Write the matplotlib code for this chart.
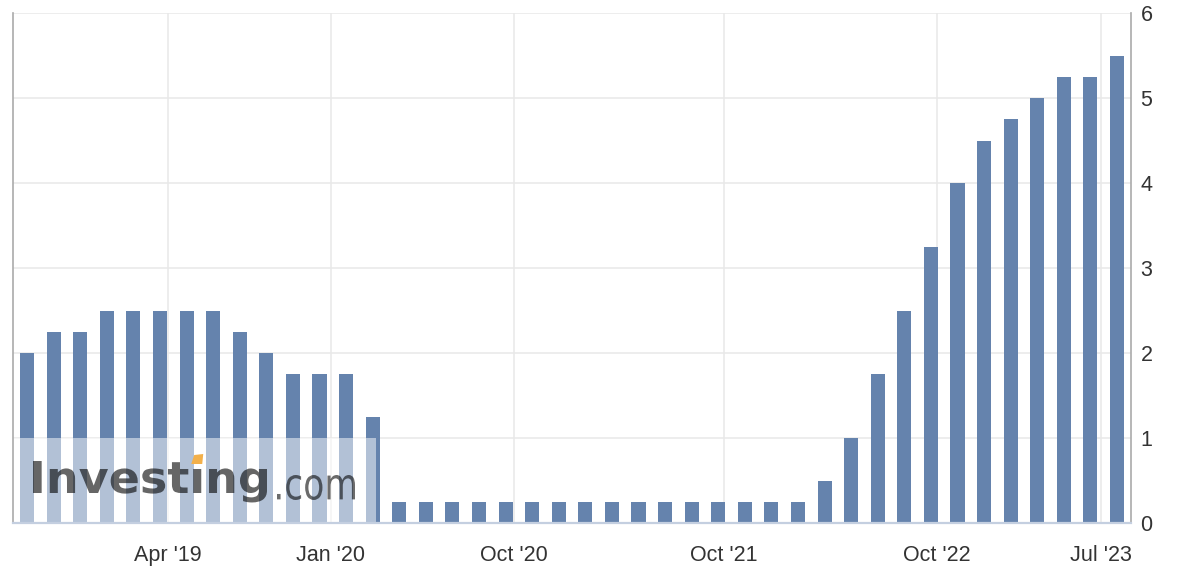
from datetime import date
import numpy as np
import matplotlib
matplotlib.use("Agg")
import matplotlib.pyplot as plt
from matplotlib.patches import Rectangle, Polygon, PathPatch
from matplotlib.textpath import TextPath
from matplotlib.font_manager import FontProperties
from matplotlib.transforms import IdentityTransform, Affine2D

# FOMC decision dates and the upper bound of the target rate (%)
meeting_dates = [
    date(2018, 8, 1), date(2018, 9, 26), date(2018, 11, 8), date(2018, 12, 19),
    date(2019, 1, 30), date(2019, 3, 20), date(2019, 5, 1), date(2019, 6, 19),
    date(2019, 7, 31), date(2019, 9, 18), date(2019, 10, 30), date(2019, 12, 11),
    date(2020, 1, 29), date(2020, 3, 3), date(2020, 3, 15), date(2020, 4, 29),
    date(2020, 6, 10), date(2020, 7, 29), date(2020, 9, 16), date(2020, 11, 5),
    date(2020, 12, 16), date(2021, 1, 27), date(2021, 3, 17), date(2021, 4, 28),
    date(2021, 6, 16), date(2021, 7, 28), date(2021, 9, 22), date(2021, 11, 3),
    date(2021, 12, 15), date(2022, 1, 26), date(2022, 3, 16), date(2022, 5, 4),
    date(2022, 6, 15), date(2022, 7, 27), date(2022, 9, 21), date(2022, 11, 2),
    date(2022, 12, 14), date(2023, 2, 1), date(2023, 3, 22), date(2023, 5, 3),
    date(2023, 6, 14), date(2023, 7, 26),
]
rates = [
    2.00, 2.25, 2.25, 2.50, 2.50, 2.50, 2.50, 2.50, 2.25, 2.00, 1.75, 1.75,
    1.75, 1.25, 0.25, 0.25, 0.25, 0.25, 0.25, 0.25, 0.25, 0.25, 0.25, 0.25,
    0.25, 0.25, 0.25, 0.25, 0.25, 0.25, 0.50, 1.00, 1.75, 2.50, 3.25, 4.00,
    4.50, 4.75, 5.00, 5.25, 5.25, 5.50,
]
tick_dates = [date(2019, 4, 1), date(2020, 1, 1), date(2020, 10, 1),
              date(2021, 10, 1), date(2022, 10, 1), date(2023, 7, 1)]
tick_labels = ["Apr '19", "Jan '20", "Oct '20", "Oct '21", "Oct '22", "Jul '23"]
y_ticks = [0, 1, 2, 3, 4, 5, 6]

plt.rcParams['font.family'] = ['Liberation Sans', 'DejaVu Sans']

W, H = 1196, 580
AX_L, AX_R, AX_T, AX_B = 12.7, 1130.7, 13, 523
fig = plt.figure(figsize=(W / 100, H / 100), dpi=100)
ax = fig.add_axes([AX_L / W, 1 - AX_B / H, (AX_R - AX_L) / W, (AX_B - AX_T) / H])

x = np.arange(len(rates))
ax.bar(x, rates, width=0.53, color='#6583ad', zorder=2)

# ordinal axis: ticks are placed between the bars by date
meet_ord = [d.toordinal() for d in meeting_dates]
tick_pos = np.interp([d.toordinal() for d in tick_dates], meet_ord, x)
ax.set_xticks(tick_pos, tick_labels)
ax.set_xlim(-0.54, len(rates) - 0.485)
ax.set_ylim(0, 6)
ax.yaxis.tick_right()
ax.set_yticks(y_ticks)

ax.grid(True, color='#e8e8e8', lw=1.1)
ax.set_axisbelow(True)
ax.tick_params(length=0, labelsize=15.5, colors='#333333')
ax.tick_params(axis='x', pad=16)
ax.tick_params(axis='y', pad=7)
ax.spines['top'].set_visible(False)
for side in ['left', 'right']:
    ax.spines[side].set_color('#aaaaaa')
    ax.spines[side].set_linewidth(1.2)
ax.spines['bottom'].set_color('#c4cfe0')
ax.spines['bottom'].set_linewidth(1.6)

# watermark: white veil + translucent logo drawn as paths fitted to pixel boxes
ax.add_patch(Rectangle((0, 0), (376 - AX_L) / (AX_R - AX_L), 1 / 6,
                       transform=ax.transAxes, fc='white', ec='none',
                       alpha=0.5, zorder=2.4))


def fitted(text, weight, left, right, top, bottom, ref=None):
    # top/bottom are image rows (counted from the top edge)
    fp = FontProperties(family='DejaVu Sans', weight=weight)
    p = TextPath((0, 0), text, size=10, prop=fp)
    e = p.get_extents()
    r = TextPath((0, 0), ref, size=10, prop=fp).get_extents() if ref else e
    sx = (right - left) / e.width
    sy = (bottom - top) / r.height
    tr = Affine2D().translate(-e.x0, -r.y0).scale(sx, sy).translate(left, H - bottom)
    return p, tr, fp, sx, e


word, tr, fp, sx, e = fitted('Invest\u0131ng', 'bold', 33, 267, 461, 493, ref='I')
ax.add_patch(PathPatch(word, transform=tr + IdentityTransform(), fc='black',
                       ec='none', alpha=0.6, zorder=5))
dotless = TextPath((0, 0), 'Invest\u0131', size=10, prop=fp).get_extents()
stem = TextPath((0, 0), '\u0131', size=10, prop=fp).get_extents()
cx = 33 + (dotless.x1 - e.x0 - stem.width / 2) * sx

com, tr2, _, _, _ = fitted('.com', 'normal', 277, 355, 475, 500)
ax.add_patch(PathPatch(com, transform=tr2 + IdentityTransform(), fc='black',
                       ec='none', alpha=0.58, zorder=5))

y0, y1 = H - 464, H - 455
ax.add_patch(Polygon([(cx - 6, y0), (cx + 5, y0), (cx + 6, y1 + 1), (cx - 3, y1)],
                     closed=True, transform=IdentityTransform(),
                     fc='#f3b04a', ec='none', zorder=6))

fig.savefig('out.png', dpi=100)
